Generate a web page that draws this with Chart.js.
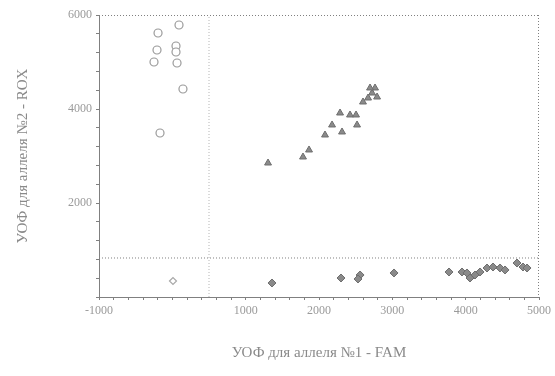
<!DOCTYPE html>
<html>
<head>
<meta charset="utf-8">
<script src="https://cdn.jsdelivr.net/npm/chart.js@4/dist/chart.umd.min.js"></script>
<style>
  html, body { margin: 0; padding: 0; background: #fff; }
  #wrap { width: 555px; height: 376px; }
</style>
</head>
<body>
<div id="wrap"><canvas id="allelePlot"></canvas></div>
<script>
// allele 2 homozygotes (upper left)
const allele2X = [91, -195, -209, 50, 50, -250, 64, 145, -168];
const allele2Y = [5787, 5617, 5255, 5340, 5213, 5000, 4979, 4426, 3489];

// heterozygotes (diagonal)
const heteroX = [1305, 1782, 1864, 2082, 2178, 2287, 2314, 2423, 2505, 2519, 2600, 2669, 2724, 2764, 2792, 2696];
const heteroY = [2851, 2979, 3128, 3447, 3660, 3915, 3511, 3873, 3873, 3660, 4149, 4234, 4340, 4447, 4255, 4447];

// allele 1 homozygotes (bottom)
const allele1X = [1359, 2300, 2560, 2532, 3023, 3773, 3950, 4018, 4059, 4127, 4196, 4291, 4373, 4469, 4537, 4700, 4782, 4837];
const allele1Y = [298, 404, 468, 383, 511, 532, 532, 511, 404, 468, 532, 617, 638, 617, 575, 723, 638, 617];

// no-template control
const ntcX = [9];
const ntcY = [340];

// threshold lines
const thresholdX = 500;
const thresholdY = 830;

const xTickLabels = [-1000, 1000, 2000, 3000, 4000, 5000];
const yTickLabels = [2000, 4000, 6000];

const toPoints = (xs, ys) => xs.map((x, i) => ({ x: x, y: ys[i] }));

const tickColor = '#9a9a9a';
const frameColor = '#808080';
const serif = "'Liberation Serif', 'DejaVu Serif', serif";

const ctx = document.getElementById('allelePlot').getContext('2d');

new Chart(ctx, {
    type: 'scatter',
    data: {
        datasets: [
            {
                label: 'Аллель 2',
                data: toPoints(allele2X, allele2Y),
                pointStyle: 'circle',
                pointRadius: 4,
                backgroundColor: '#ffffff',
                borderColor: '#9a9a9a',
                borderWidth: 1.2
            },
            {
                label: 'Гетерозиготы',
                data: toPoints(heteroX, heteroY),
                pointStyle: 'triangle',
                pointRadius: 4,
                backgroundColor: '#8a8a8a',
                borderColor: '#6e6e6e',
                borderWidth: 1
            },
            {
                label: 'Аллель 1',
                data: toPoints(allele1X, allele1Y),
                pointStyle: 'rectRot',
                pointRadius: 4,
                backgroundColor: '#8a8a8a',
                borderColor: '#6e6e6e',
                borderWidth: 1
            },
            {
                label: 'K-',
                data: toPoints(ntcX, ntcY),
                pointStyle: 'rectRot',
                pointRadius: 3.5,
                backgroundColor: '#ffffff',
                borderColor: '#a8a8a8',
                borderWidth: 1.2
            },
            {
                type: 'line',
                label: 'порог X',
                data: [{ x: thresholdX, y: 0 }, { x: thresholdX, y: 6000 }],
                borderColor: '#b5b5b5',
                borderWidth: 1,
                borderDash: [1, 2],
                pointRadius: 0
            },
            {
                type: 'line',
                label: 'порог Y',
                data: [{ x: -1000, y: thresholdY }, { x: 5000, y: thresholdY }],
                borderColor: '#808080',
                borderWidth: 1,
                borderDash: [1, 2],
                pointRadius: 0
            }
        ]
    },
    options: {
        responsive: true,
        maintainAspectRatio: false,
        animation: false,
        layout: { padding: { top: 15, right: 16, left: 14, bottom: 0 } },
        plugins: {
            legend: { display: false },
            tooltip: { enabled: false }
        },
        scales: {
            x: {
                type: 'linear',
                min: -1000,
                max: 5000,
                afterFit: (scale) => { scale.height = 79; },
                ticks: {
                    stepSize: 200,
                    maxTicksLimit: 100,
                    autoSkip: false,
                    maxRotation: 0,
                    color: tickColor,
                    font: { family: serif, size: 12 },
                    padding: 4,
                    callback: (v) => xTickLabels.includes(v) ? String(v) : ''
                },
                grid: { drawOnChartArea: false, tickLength: 3, color: frameColor },
                border: { color: frameColor, dash: [1, 2], width: 1 },
                title: {
                    display: true,
                    text: 'УОФ для аллеля №1 - FAM',
                    color: '#8a8a8a',
                    font: { family: serif, size: 15 },
                    padding: { top: 4, bottom: 14 }
                }
            },
            y: {
                type: 'linear',
                min: 0,
                max: 6000,
                afterFit: (scale) => { scale.width = 85; },
                ticks: {
                    stepSize: 400,
                    maxTicksLimit: 100,
                    autoSkip: false,
                    color: tickColor,
                    font: { family: serif, size: 12 },
                    padding: 4,
                    callback: (v) => yTickLabels.includes(v) ? String(v) : ''
                },
                grid: { drawOnChartArea: false, tickLength: 3, color: frameColor },
                border: { color: frameColor, dash: [1, 2], width: 1 },
                title: {
                    display: true,
                    text: 'УОФ для аллеля №2 - ROX',
                    color: '#8a8a8a',
                    font: { family: serif, size: 15 },
                    padding: { top: 0, bottom: 0 }
                }
            }
        }
    },
    plugins: [{
        // dotted frame on the top and right sides
        id: 'frame',
        afterDraw(chart) {
            const a = chart.chartArea;
            const c = chart.ctx;
            c.save();
            c.strokeStyle = frameColor;
            c.lineWidth = 1;
            c.setLineDash([1, 2]);
            c.beginPath();
            c.moveTo(a.left, a.top + 0.5);
            c.lineTo(a.right, a.top + 0.5);
            c.moveTo(a.right - 0.5, a.top);
            c.lineTo(a.right - 0.5, a.bottom);
            c.stroke();
            c.restore();
        }
    }]
});
</script>
</body>
</html>
